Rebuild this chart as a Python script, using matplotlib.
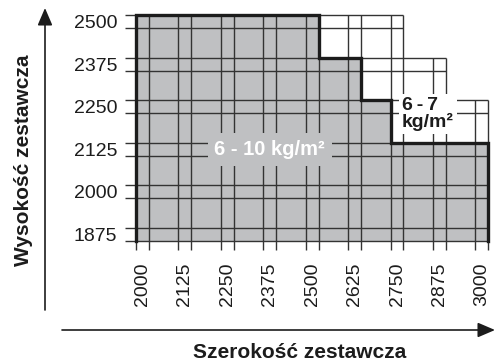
import matplotlib
matplotlib.use("Agg")
import matplotlib.pyplot as plt
from matplotlib.patches import Polygon

plt.rcParams['font.family'] = ['Liberation Sans', 'DejaVu Sans']

# szerokość / wysokość zestawcza (mm)
x_ticks = [2000, 2125, 2250, 2375, 2500, 2625, 2750, 2875, 3000]
y_ticks = [1875, 2000, 2125, 2250, 2375, 2500]

# granica obszaru 6-10 kg/m2 (schodki)
step_x = [1981, 1981, 2519, 2519, 2644, 2644, 2731, 2731, 3019, 3019]
step_y = [1856, 2519, 2519, 2394, 2394, 2269, 2269, 2144, 2144, 1856]

# prawa granica siatki w górnych wierszach
row_right = {2500: 2769, 2375: 2894, 2250: 3019}

band = 19
gray = '#bfc0c2'
ink = '#1c1c1c'
grid_c = '#333333'

fig = plt.figure(figsize=(4.95, 3.63), dpi=100)
ax = fig.add_axes([136 / 495, (363 - 241) / 363, (488.3 - 136) / 495, (241 - 15) / 363])
ax.set_xlim(1981, 3019)
ax.set_ylim(1856, 2519)
for s in ax.spines.values():
    s.set_visible(False)

ax.add_patch(Polygon(list(zip(step_x, step_y)), closed=True, facecolor=gray,
                     edgecolor='none', zorder=1))

x_stub = 1949
y_stub = 1829

# poziome linie siatki (po dwie na każdą wartość)
for v in y_ticks:
    right = row_right.get(v, 3019)
    for yy in (v - band, v + band):
        ax.plot([x_stub, right], [yy, yy], color=grid_c, lw=1.0, zorder=2,
                clip_on=False, solid_capstyle='butt')

# pionowe linie siatki
for v in x_ticks:
    for xx in (v - band, v + band):
        if xx <= 2769:
            top = 2519
        elif xx <= 2894:
            top = 2394
        else:
            top = 2269
        ax.plot([xx, xx], [y_stub, top], color=grid_c, lw=1.0, zorder=2,
                clip_on=False, solid_capstyle='butt')

ax.plot(step_x, step_y, color=ink, lw=2.4, zorder=3, clip_on=False,
        solid_joinstyle='miter')

ax.set_xticks(x_ticks)
ax.set_xticklabels([str(v) for v in x_ticks], rotation=90, fontsize=14, color=ink)
ax.set_yticks(y_ticks)
ax.set_yticklabels([str(v) for v in y_ticks], fontsize=14, color=ink)
ax.tick_params(axis='x', length=0, pad=15.5)
ax.tick_params(axis='y', length=0, pad=13.5)

ax.text(2375, 2125, '6 - 10 kg/m²', ha='center', va='center', fontsize=14.5,
        fontweight='bold', color='white', zorder=4,
        bbox=dict(facecolor=gray, edgecolor='none', pad=5))
ax.text(2765, 2228, '6\u2009-\u20097\nkg/m²', ha='left', va='center', fontsize=14,
        fontweight='bold', color=ink, linespacing=0.95, zorder=4,
        bbox=dict(facecolor='white', edgecolor='none', pad=2))

# strzałki osi
arrow = dict(arrowstyle='-|>,head_length=0.7,head_width=0.3', mutation_scale=15,
             lw=1.2, color=ink, shrinkA=0, shrinkB=0)
fig.add_artist(plt.Annotation('', xy=(45, 363 - 8), xytext=(45, 363 - 310),
                              xycoords='figure pixels', textcoords='figure pixels',
                              arrowprops=arrow))
fig.add_artist(plt.Annotation('', xy=(495, 363 - 330), xytext=(62, 363 - 330),
                              xycoords='figure pixels', textcoords='figure pixels',
                              arrowprops=arrow))

fig.text(24 / 495, 1 - 160 / 363, 'Wysokość zestawcza', rotation=90, ha='center',
         va='center', fontsize=15, fontweight='bold', color=ink)
fig.text(300 / 495, 1 - 353 / 363, 'Szerokość zestawcza', ha='center', va='center',
         fontsize=15, fontweight='bold', color=ink)

fig.savefig('out.png', dpi=100)
